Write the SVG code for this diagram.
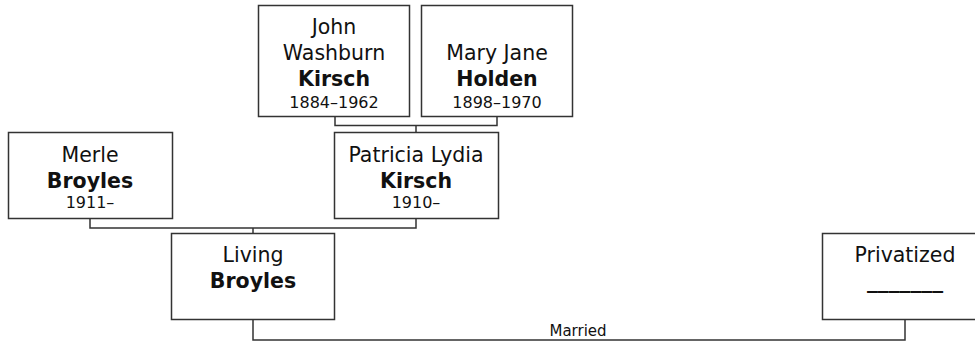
<svg xmlns="http://www.w3.org/2000/svg" width="975" height="343" viewBox="0 0 975 343">
<style>
.box{fill:#fff;stroke:#333;stroke-width:1.5}
.ln{fill:none;stroke:#333;stroke-width:1.5}
text{font-family:"DejaVu Sans",Verdana,sans-serif;fill:#111;text-anchor:middle}
.n{font-size:20.5px}
.b{font-size:20.5px;font-weight:bold}
.d{font-size:16px}
.m{font-size:15px}
</style>
<g id="connectors">
<polyline class="ln" points="335,117 335,125.5 497,125.5 497,117"/>
<line class="ln" x1="416" y1="125.5" x2="416" y2="133"/>
<polyline class="ln" points="90,218 90,228 416,228 416,218"/>
<line class="ln" x1="253" y1="228" x2="253" y2="234"/>
<polyline class="ln" points="253,319 253,340 905,340 905,319"/>
<text class="m" x="578" y="336">Married</text>
</g>
<g id="john">
<rect class="box" x="258.5" y="5.5" width="151" height="111"/>
<text class="n" x="334" y="34">John</text>
<text class="n" x="334" y="60">Washburn</text>
<text class="b" x="334" y="86">Kirsch</text>
<text class="d" x="334" y="108">1884–1962</text>
</g>
<g id="mary">
<rect class="box" x="421.5" y="5.5" width="151" height="111"/>
<text class="n" x="497" y="60">Mary Jane</text>
<text class="b" x="497" y="86">Holden</text>
<text class="d" x="497" y="108">1898–1970</text>
</g>
<g id="merle">
<rect class="box" x="8.5" y="132.5" width="164" height="86"/>
<text class="n" x="90" y="162">Merle</text>
<text class="b" x="90" y="188">Broyles</text>
<text class="d" x="90" y="208">1911–</text>
</g>
<g id="patricia">
<rect class="box" x="334.5" y="132.5" width="164" height="86"/>
<text class="n" x="416" y="162">Patricia Lydia</text>
<text class="b" x="416" y="188">Kirsch</text>
<text class="d" x="416" y="208">1910–</text>
</g>
<g id="living">
<rect class="box" x="171.5" y="233.5" width="163" height="86"/>
<text class="n" x="253" y="262">Living</text>
<text class="b" x="253" y="288">Broyles</text>
</g>
<g id="privatized">
<rect class="box" x="822.5" y="233.5" width="164" height="86"/>
<text class="n" x="905" y="262">Privatized</text>
<text class="b" x="905" y="288" textLength="76" lengthAdjust="spacingAndGlyphs">_______</text>
</g>
</svg>
